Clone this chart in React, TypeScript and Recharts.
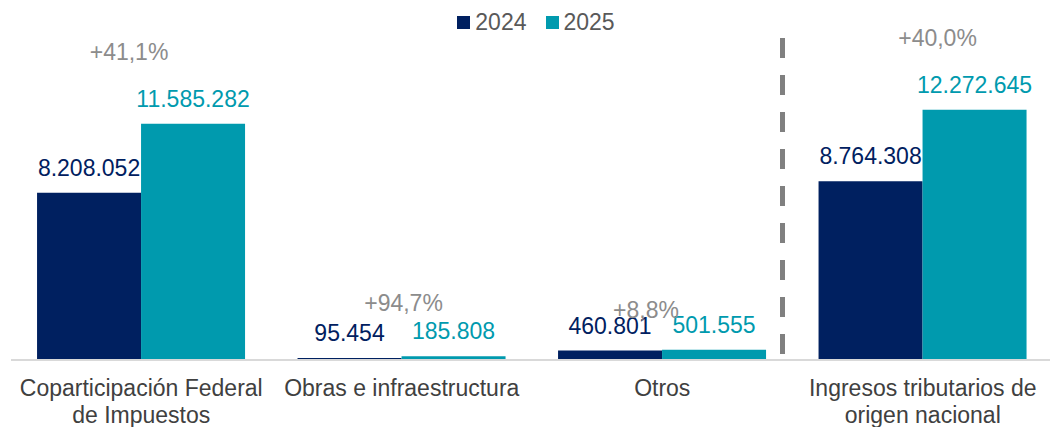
import React from "react";
import { BarChart, Bar, XAxis, YAxis, LabelList, Legend, ReferenceLine } from "recharts";

const categories = [
  "Coparticipación Federal\nde Impuestos",
  "Obras e infraestructura",
  "Otros",
  "Ingresos tributarios de\norigen nacional",
];
const values2024 = [8208052, 95454, 460801, 8764308];
const values2025 = [11585282, 185808, 501555, 12272645];
const variations = ["+41,1%", "+94,7%", "+8,8%", "+40,0%"];
const seriesNames = ["2024", "2025"];

const data = categories.map((c, i) => ({
  name: c,
  y2024: values2024[i],
  y2025: values2025[i],
  pct: variations[i],
}));

const NAVY = "#002060";
const TEAL = "#009AAE";
const FONT = "'Liberation Sans', Arial, sans-serif";

// layout offsets for the variation labels (relative to the 2025 bar top-left)
const pctOffsets = [
  { dx: -12, dy: -64 },
  { dx: 2, dy: -45 },
  { dx: -16, dy: -32 },
  { dx: 15, dy: -64 },
];

const fmt = (v: any) => String(v).replace(/\B(?=(\d{3})+(?!\d))/g, ".");

const CategoryTick = (props: any) => {
  const { x, y, payload } = props;
  const lines = String(payload.value).split("\n");
  return (
    <g>
      {lines.map((l: string, i: number) => (
        <text
          key={i}
          x={x}
          y={y + 36 + i * 27}
          textAnchor="middle"
          fill="#404040"
          fontSize={23}
          fontFamily={FONT}
        >
          {l}
        </text>
      ))}
    </g>
  );
};

const PctLabel = (props: any) => {
  const { x, y, index } = props;
  const o = pctOffsets[index] || { dx: 0, dy: -60 };
  return (
    <text
      x={x + o.dx}
      y={y + o.dy}
      textAnchor="middle"
      fill="#8C8C8C"
      fontSize={23}
      fontFamily={FONT}
    >
      {variations[index]}
    </text>
  );
};

const LegendContent = () => (
  <div
    style={{
      display: "flex",
      justifyContent: "center",
      alignItems: "center",
      fontFamily: FONT,
      fontSize: 23,
      color: "#595959",
    }}
  >
    {seriesNames.map((n, i) => (
      <div key={n} style={{ display: "flex", alignItems: "center", marginLeft: i ? 19 : 0 }}>
        <span
          style={{
            display: "inline-block",
            width: 13,
            height: 13,
            background: i === 0 ? NAVY : TEAL,
            marginRight: 5,
          }}
        />
        <span>{n}</span>
      </div>
    ))}
  </div>
);

export default function App() {
  return (
    <div
      style={{
        position: "absolute",
        left: 0,
        top: 0,
        width: 1050,
        height: 427,
        overflow: "hidden",
        background: "#fff",
      }}
    >
      <BarChart
        width={1060}
        height={427}
        data={data}
        margin={{ top: 95, right: 7, bottom: 0, left: 11 }}
        barCategoryGap="10%"
        barGap={0}
      >
        <XAxis
          dataKey="name"
          tick={<CategoryTick />}
          tickLine={false}
          tickSize={0}
          tickMargin={0}
          axisLine={{ stroke: "#D9D9D9", strokeWidth: 2 }}
          height={67}
          interval={0}
        />
        <YAxis hide domain={[0, 13000000]} />
        <Legend
          layout="horizontal"
          verticalAlign="middle"
          align="center"
          wrapperStyle={{ top: 9, left: 11, width: 1050 }}
          content={<LegendContent />}
        />
        <ReferenceLine
          segment={[
            { x: "Otros", y: 15800000 },
            { x: "Otros", y: 0 },
          ]}
          position="end"
          ifOverflow="visible"
          shape={(p: any) => (
            <line
              x1={p.x1 - 10}
              y1={p.y1}
              x2={p.x2 - 10}
              y2={p.y2}
              stroke="#808080"
              strokeWidth={5}
              strokeDasharray="20 17"
            />
          )}
        />
        <Bar dataKey="y2024" fill={NAVY} isAnimationActive={false}>
          <LabelList
            dataKey="y2024"
            position="top"
            offset={17}
            formatter={fmt}
            fill={NAVY}
            fontSize={23}
            fontFamily={FONT}
          />
        </Bar>
        <Bar dataKey="y2025" fill={TEAL} isAnimationActive={false}>
          <LabelList
            dataKey="y2025"
            position="top"
            offset={17}
            formatter={fmt}
            fill={TEAL}
            fontSize={23}
            fontFamily={FONT}
          />
          <LabelList dataKey="pct" content={<PctLabel />} />
        </Bar>
      </BarChart>
    </div>
  );
}
